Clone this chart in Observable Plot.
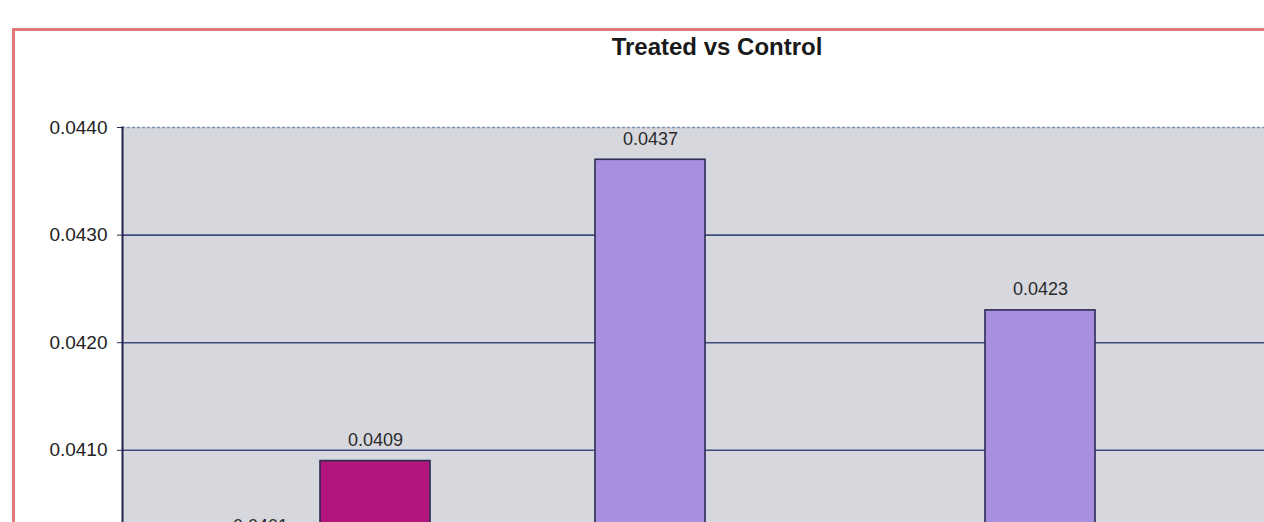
<!DOCTYPE html>
<html><head><meta charset="utf-8">
<script src="https://cdn.jsdelivr.net/npm/d3@7"></script>
<script src="https://cdn.jsdelivr.net/npm/@observablehq/plot@0.6"></script>
<style>
html,body{margin:0;padding:0;background:#fff;overflow:hidden;width:1264px;height:522px;position:relative}
#frame{position:absolute;left:12px;top:28px;width:1420px;height:700px;border-left:3px solid #e07a78;border-top:3px solid #e07a78;}
#title{position:absolute;left:12px;width:1410px;top:33px;line-height:26px;text-align:center;font:bold 24px 'Liberation Sans',Arial,sans-serif;color:#1a1a1a}
#chart{position:absolute;left:0;top:0;width:1432px}
#chart svg{max-width:none !important}
</style></head>
<body>
<div id="frame"></div>
<div id="title">Treated vs Control</div>
<div id="chart"></div>
<script>
const groups = ["Group 1", "Group 2", "Group 3"];
const series = ["Treated", "Control"];
const treatedValues = [0.0401, 0.0437, 0.0423];
const controlValues = [0.0409, null, null];
const yDomain = [0.039, 0.044];
const yTicks = [0.041, 0.042, 0.043, 0.044];
const gridTicks = [0.040, 0.041, 0.042, 0.043];
const colors = ["#a98fe0", "#b2157c"];

const data = [];
groups.forEach((g, i) => {
  if (treatedValues[i] != null) data.push({group: g, series: series[0], value: treatedValues[i]});
  if (controlValues[i] != null) data.push({group: g, series: series[1], value: controlValues[i]});
});

const chart = Plot.plot({
  width: 1432,
  height: 695,
  marginLeft: 122,
  marginRight: 140,
  marginTop: 127,
  marginBottom: 30,
  style: {fontFamily: "'Liberation Sans', Arial, sans-serif", background: "transparent", maxWidth: "none"},
  fx: {domain: groups, padding: 0, axis: null},
  x: {domain: series, paddingInner: 0.0435, paddingOuter: 0.717, axis: null},
  y: {domain: yDomain, axis: null},
  color: {domain: series, range: colors},
  marks: [
    Plot.frame({fill: "#d7d8dd", stroke: "#d7d8dd", strokeWidth: 1}),
    Plot.ruleY(gridTicks, {stroke: "#3d4c7c", strokeWidth: 1.6}),
    Plot.ruleY([0.044], {stroke: "#7f90b4", strokeWidth: 1.3, strokeDasharray: "3,2"}),
    Plot.barY(data, {fx: "group", x: "series", y1: yDomain[0], y2: "value", fill: "series", stroke: "#2b2a55", strokeWidth: 1.6}),
    Plot.text(data, {fx: "group", x: "series", y: "value", text: d => d3.format(".4f")(d.value), dy: -21, fontSize: 18, fill: "#2a2a2a"}),
    Plot.axisY({ticks: yTicks, tickFormat: d3.format(".4f"), label: null, tickSize: 5, tickPadding: 10, fontSize: 19, stroke: "#2b2a55", fill: "#222", facetAnchor: "left"}),
    Plot.frame({anchor: "left", stroke: "#23224d", strokeWidth: 2, facetAnchor: "left"})
  ]
});
document.getElementById("chart").appendChild(chart);
</script>
</body></html>
